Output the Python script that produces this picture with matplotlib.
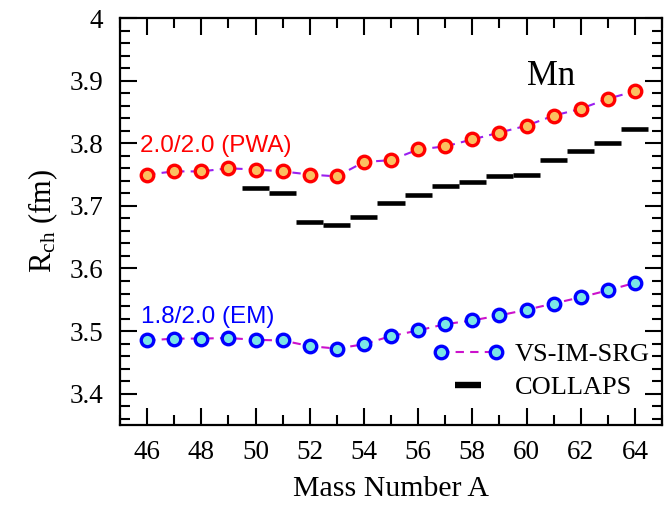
import matplotlib
matplotlib.use("Agg")
import matplotlib.pyplot as plt
from matplotlib.lines import Line2D
from matplotlib.legend_handler import HandlerLine2D
from matplotlib.ticker import MultipleLocator
import numpy as np

# ---- data ----
mass_A = [46, 47, 48, 49, 50, 51, 52, 53, 54, 55, 56, 57, 58, 59, 60, 61, 62, 63, 64]
r_pwa = [3.750, 3.755, 3.755, 3.760, 3.758, 3.755, 3.750, 3.747, 3.770, 3.773,
         3.790, 3.795, 3.806, 3.817, 3.828, 3.844, 3.855, 3.871, 3.883]
r_em = [3.485, 3.488, 3.488, 3.489, 3.486, 3.485, 3.476, 3.472, 3.479, 3.492,
        3.501, 3.511, 3.517, 3.525, 3.534, 3.544, 3.554, 3.565, 3.577]
collaps_A = [50, 51, 52, 53, 54, 55, 56, 57, 58, 59, 60, 61, 62, 63, 64]
r_collaps = [3.729, 3.720, 3.674, 3.669, 3.682, 3.705, 3.717, 3.731, 3.738,
             3.748, 3.750, 3.773, 3.788, 3.800, 3.822]
x_ticks = [46, 48, 50, 52, 54, 56, 58, 60, 62, 64]
y_ticks = [3.4, 3.5, 3.6, 3.7, 3.8, 3.9, 4.0]
y_ticklabels = ["3.4", "3.5", "3.6", "3.7", "3.8", "3.9", "4"]

plt.rcParams['font.family'] = ['Liberation Serif', 'DejaVu Serif']
plt.rcParams['mathtext.fontset'] = 'custom'
plt.rcParams['mathtext.rm'] = 'Liberation Serif'
plt.rcParams['mathtext.it'] = 'Liberation Serif:italic'

fig = plt.figure(figsize=(6.69, 5.07), dpi=100)
ax = fig.add_axes([120/669, 1-425/507, 542/669, 407/507])

red_face = '#fbc060'
cyan_face = '#7ae6e6'

ax.plot(mass_A, r_pwa, ls=(0, (4, 3)), color='#9a1ff0', lw=1.5,
        marker='o', ms=9, mfc=red_face, mec='#ff0000', mew=2.4, zorder=3)
ax.plot(mass_A, r_em, ls=(0, (4, 3)), color='#cc11cc', lw=1.5,
        marker='o', ms=9, mfc=cyan_face, mec='#0000ff', mew=2.4, zorder=3)
ax.hlines(r_collaps, np.array(collaps_A) - 0.5, np.array(collaps_A) + 0.5,
          colors='black', lw=3.3, zorder=2)

ax.set_xlim(45, 65)
ax.set_ylim(3.35, 4.0)
ax.set_xticks(x_ticks)
ax.set_xticklabels([str(v) for v in x_ticks])
ax.set_yticks(y_ticks)
ax.set_yticklabels(y_ticklabels)
ax.xaxis.set_minor_locator(MultipleLocator(1))
ax.yaxis.set_minor_locator(MultipleLocator(0.02))
ax.tick_params(which='both', direction='in', top=True, right=True, width=1.5,
               labelsize=19.5)
ax.tick_params(which='major', length=12.5)
ax.tick_params(which='minor', length=7)
ax.tick_params(axis='y', which='major', pad=12)
ax.tick_params(axis='x', which='major', pad=11)
for s in ax.spines.values():
    s.set_linewidth(1.6)

ax.set_xlabel('Mass Number A', fontsize=21.5, labelpad=8)
ax.set_ylabel(r'R$_{\rm ch}$ (fm)', fontsize=22, labelpad=7)

ax.text(45.72, 3.795, '2.0/2.0 (PWA)', color='#ff0000', fontsize=17.5,
        family='Liberation Sans', va='center', ha='left')
ax.text(45.76, 3.522, '1.8/2.0 (EM)', color='#0000ff', fontsize=17.5,
        family='Liberation Sans', va='center', ha='left')
ax.text(60.0, 3.906, 'Mn', fontsize=25, va='center', ha='left')

h1 = Line2D([], [], ls=(0, (4, 3)), color='#cc11cc', lw=1.5, marker='o', ms=9,
            mfc=cyan_face, mec='#0000ff', mew=2.4)
h2 = Line2D([], [], ls='none', color='black', marker='_', ms=19, mew=4.6)
leg = ax.legend([h1, h2], ['VS-IM-SRG', 'COLLAPS'], loc='lower right',
                bbox_to_anchor=(0.987, 0.05), frameon=False, fontsize=19,
                handlelength=2.7, handletextpad=0.4, labelspacing=0.38,
                borderpad=0.0, borderaxespad=0.2, numpoints=2,
                handler_map={h2: HandlerLine2D(numpoints=1)})

fig.savefig('out.png', dpi=100)
